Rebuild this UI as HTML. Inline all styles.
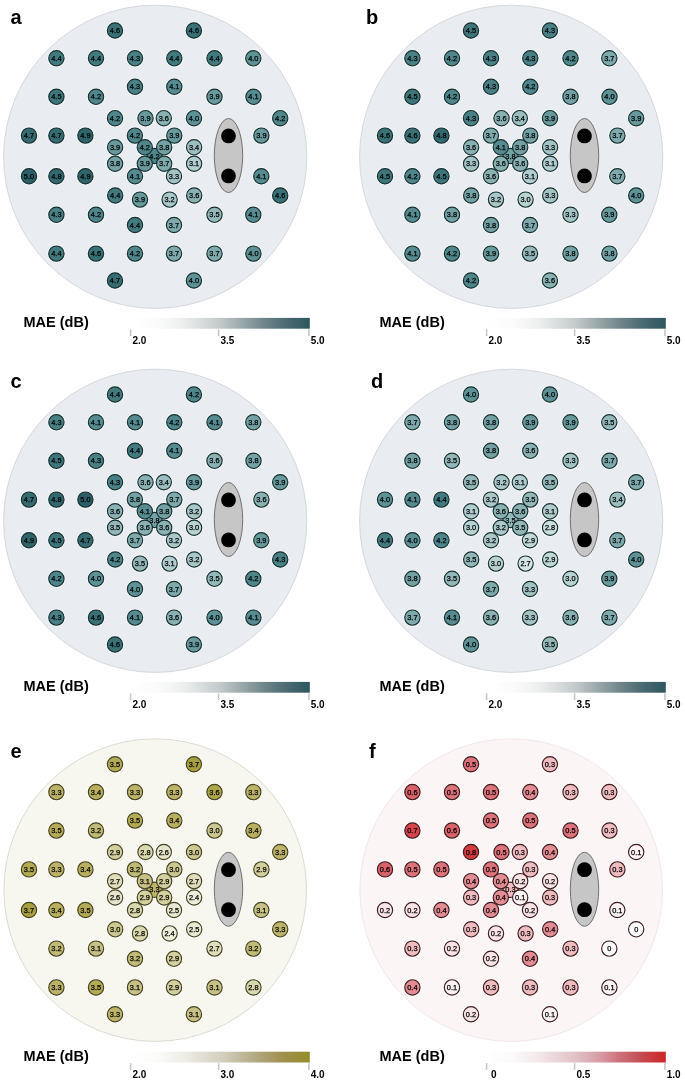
<!DOCTYPE html>
<html><head><meta charset="utf-8">
<style>
html,body{margin:0;padding:0;background:#fff;}
body{width:685px;height:1083px;overflow:hidden;}
svg{display:block;will-change:transform;filter:blur(0.25px);}
text{font-family:"Liberation Sans",sans-serif;}
.lab{font-size:20px;font-weight:bold;fill:#000;}
.v{font-size:7.4px;fill:#000;stroke:#000;stroke-width:0.25px;text-anchor:middle;}
.mae{font-size:14.5px;font-weight:bold;fill:#000;}
.tk{font-size:10px;font-weight:bold;fill:#000;}
</style></head>
<body>
<svg width="685" height="1083" viewBox="0 0 685 1083">
<rect width="685" height="1083" fill="#fff"/>
<g transform="translate(0,0)">
<text x="10.5" y="24" class="lab">a</text>
<circle cx="155.2" cy="156.8" r="151.6" fill="#e9ecf0" stroke="#d4d8df" stroke-width="1"/>
<ellipse cx="228.5" cy="155.5" rx="14.2" ry="37" fill="#c6c6c6" stroke="#555" stroke-width="0.8"/>
<circle cx="228.5" cy="135.9" r="7.4" fill="#000"/>
<circle cx="228.5" cy="175.9" r="7.4" fill="#000"/>
<g fill="none" stroke="#fff" stroke-opacity="0.55" stroke-width="1">
<circle cx="115.0" cy="30.5" r="8.75"/>
<circle cx="193.9" cy="30.5" r="8.75"/>
<circle cx="56.4" cy="58.3" r="8.75"/>
<circle cx="96.0" cy="58.3" r="8.75"/>
<circle cx="135.0" cy="58.3" r="8.75"/>
<circle cx="174.3" cy="58.3" r="8.75"/>
<circle cx="214.5" cy="58.3" r="8.75"/>
<circle cx="253.3" cy="58.3" r="8.75"/>
<circle cx="135.0" cy="86.8" r="8.75"/>
<circle cx="174.3" cy="86.8" r="8.75"/>
<circle cx="56.4" cy="96.8" r="8.75"/>
<circle cx="96.0" cy="96.8" r="8.75"/>
<circle cx="214.5" cy="96.8" r="8.75"/>
<circle cx="253.5" cy="96.8" r="8.75"/>
<circle cx="115.0" cy="118.2" r="8.75"/>
<circle cx="145.5" cy="118.2" r="8.75"/>
<circle cx="163.8" cy="118.2" r="8.75"/>
<circle cx="194.0" cy="118.2" r="8.75"/>
<circle cx="280.2" cy="118.2" r="8.75"/>
<circle cx="29.0" cy="135.6" r="8.75"/>
<circle cx="56.4" cy="135.6" r="8.75"/>
<circle cx="85.4" cy="135.6" r="8.75"/>
<circle cx="134.9" cy="135.6" r="8.75"/>
<circle cx="174.3" cy="135.6" r="8.75"/>
<circle cx="261.4" cy="135.6" r="8.75"/>
<circle cx="115.1" cy="147.3" r="8.75"/>
<circle cx="144.8" cy="147.3" r="8.75"/>
<circle cx="164.2" cy="147.3" r="8.75"/>
<circle cx="194.1" cy="147.3" r="8.75"/>
<circle cx="154.5" cy="156.0" r="8.75"/>
<circle cx="115.1" cy="163.7" r="8.75"/>
<circle cx="144.8" cy="163.7" r="8.75"/>
<circle cx="164.2" cy="163.7" r="8.75"/>
<circle cx="194.1" cy="163.7" r="8.75"/>
<circle cx="29.0" cy="176.2" r="8.75"/>
<circle cx="56.4" cy="176.2" r="8.75"/>
<circle cx="85.4" cy="176.2" r="8.75"/>
<circle cx="135.0" cy="176.2" r="8.75"/>
<circle cx="174.0" cy="176.2" r="8.75"/>
<circle cx="261.3" cy="176.2" r="8.75"/>
<circle cx="115.2" cy="195.5" r="8.75"/>
<circle cx="194.2" cy="195.5" r="8.75"/>
<circle cx="280.2" cy="195.5" r="8.75"/>
<circle cx="140.0" cy="199.6" r="8.75"/>
<circle cx="169.6" cy="199.6" r="8.75"/>
<circle cx="56.4" cy="214.8" r="8.75"/>
<circle cx="96.0" cy="214.8" r="8.75"/>
<circle cx="214.5" cy="214.8" r="8.75"/>
<circle cx="253.3" cy="214.8" r="8.75"/>
<circle cx="135.0" cy="225.0" r="8.75"/>
<circle cx="174.0" cy="225.0" r="8.75"/>
<circle cx="56.4" cy="253.6" r="8.75"/>
<circle cx="96.0" cy="253.6" r="8.75"/>
<circle cx="135.0" cy="253.6" r="8.75"/>
<circle cx="174.0" cy="253.6" r="8.75"/>
<circle cx="214.5" cy="253.6" r="8.75"/>
<circle cx="253.4" cy="253.6" r="8.75"/>
<circle cx="115.0" cy="280.5" r="8.75"/>
<circle cx="193.9" cy="280.5" r="8.75"/>
</g>
<g stroke="#16302f" stroke-width="1.15">
<circle cx="154.5" cy="156.0" r="7.65" fill="#4f868b"/>
<circle cx="115.0" cy="30.5" r="7.65" fill="#397176"/>
<circle cx="193.9" cy="30.5" r="7.65" fill="#397176"/>
<circle cx="56.4" cy="58.3" r="7.65" fill="#427a7f"/>
<circle cx="96.0" cy="58.3" r="7.65" fill="#427a7f"/>
<circle cx="135.0" cy="58.3" r="7.65" fill="#498085"/>
<circle cx="174.3" cy="58.3" r="7.65" fill="#427a7f"/>
<circle cx="214.5" cy="58.3" r="7.65" fill="#427a7f"/>
<circle cx="253.3" cy="58.3" r="7.65" fill="#5d9296"/>
<circle cx="135.0" cy="86.8" r="7.65" fill="#498085"/>
<circle cx="174.3" cy="86.8" r="7.65" fill="#568c91"/>
<circle cx="56.4" cy="96.8" r="7.65" fill="#3e757b"/>
<circle cx="96.0" cy="96.8" r="7.65" fill="#4f868b"/>
<circle cx="214.5" cy="96.8" r="7.65" fill="#67999d"/>
<circle cx="253.5" cy="96.8" r="7.65" fill="#568c91"/>
<circle cx="115.0" cy="118.2" r="7.65" fill="#4f868b"/>
<circle cx="145.5" cy="118.2" r="7.65" fill="#67999d"/>
<circle cx="163.8" cy="118.2" r="7.65" fill="#8ab1b4"/>
<circle cx="194.0" cy="118.2" r="7.65" fill="#5d9296"/>
<circle cx="280.2" cy="118.2" r="7.65" fill="#4f868b"/>
<circle cx="29.0" cy="135.6" r="7.65" fill="#356c72"/>
<circle cx="56.4" cy="135.6" r="7.65" fill="#356c72"/>
<circle cx="85.4" cy="135.6" r="7.65" fill="#2f646b"/>
<circle cx="134.9" cy="135.6" r="7.65" fill="#4f868b"/>
<circle cx="174.3" cy="135.6" r="7.65" fill="#67999d"/>
<circle cx="261.4" cy="135.6" r="7.65" fill="#67999d"/>
<circle cx="115.1" cy="147.3" r="7.65" fill="#67999d"/>
<circle cx="144.8" cy="147.3" r="7.65" fill="#4f868b"/>
<circle cx="164.2" cy="147.3" r="7.65" fill="#73a1a5"/>
<circle cx="194.1" cy="147.3" r="7.65" fill="#9dbec0"/>
<circle cx="115.1" cy="163.7" r="7.65" fill="#73a1a5"/>
<circle cx="144.8" cy="163.7" r="7.65" fill="#67999d"/>
<circle cx="164.2" cy="163.7" r="7.65" fill="#7ea9ad"/>
<circle cx="194.1" cy="163.7" r="7.65" fill="#b2cdcf"/>
<circle cx="29.0" cy="176.2" r="7.65" fill="#2c6068"/>
<circle cx="56.4" cy="176.2" r="7.65" fill="#32686f"/>
<circle cx="85.4" cy="176.2" r="7.65" fill="#2f646b"/>
<circle cx="135.0" cy="176.2" r="7.65" fill="#568c91"/>
<circle cx="174.0" cy="176.2" r="7.65" fill="#a3c3c5"/>
<circle cx="261.3" cy="176.2" r="7.65" fill="#568c91"/>
<circle cx="115.2" cy="195.5" r="7.65" fill="#427a7f"/>
<circle cx="194.2" cy="195.5" r="7.65" fill="#8ab1b4"/>
<circle cx="280.2" cy="195.5" r="7.65" fill="#397176"/>
<circle cx="140.0" cy="199.6" r="7.65" fill="#67999d"/>
<circle cx="169.6" cy="199.6" r="7.65" fill="#aac8ca"/>
<circle cx="56.4" cy="214.8" r="7.65" fill="#498085"/>
<circle cx="96.0" cy="214.8" r="7.65" fill="#4f868b"/>
<circle cx="214.5" cy="214.8" r="7.65" fill="#94b8ba"/>
<circle cx="253.3" cy="214.8" r="7.65" fill="#568c91"/>
<circle cx="135.0" cy="225.0" r="7.65" fill="#427a7f"/>
<circle cx="174.0" cy="225.0" r="7.65" fill="#7ea9ad"/>
<circle cx="56.4" cy="253.6" r="7.65" fill="#427a7f"/>
<circle cx="96.0" cy="253.6" r="7.65" fill="#397176"/>
<circle cx="135.0" cy="253.6" r="7.65" fill="#4f868b"/>
<circle cx="174.0" cy="253.6" r="7.65" fill="#7ea9ad"/>
<circle cx="214.5" cy="253.6" r="7.65" fill="#7ea9ad"/>
<circle cx="253.4" cy="253.6" r="7.65" fill="#5d9296"/>
<circle cx="115.0" cy="280.5" r="7.65" fill="#356c72"/>
<circle cx="193.9" cy="280.5" r="7.65" fill="#5d9296"/>
</g>
<g>
<text transform="translate(115.0,33.15)" class="v">4.6</text>
<text transform="translate(193.9,33.15)" class="v">4.6</text>
<text transform="translate(56.4,60.95)" class="v">4.4</text>
<text transform="translate(96.0,60.95)" class="v">4.4</text>
<text transform="translate(135.0,60.95)" class="v">4.3</text>
<text transform="translate(174.3,60.95)" class="v">4.4</text>
<text transform="translate(214.5,60.95)" class="v">4.4</text>
<text transform="translate(253.3,60.95)" class="v">4.0</text>
<text transform="translate(135.0,89.45)" class="v">4.3</text>
<text transform="translate(174.3,89.45)" class="v">4.1</text>
<text transform="translate(56.4,99.45)" class="v">4.5</text>
<text transform="translate(96.0,99.45)" class="v">4.2</text>
<text transform="translate(214.5,99.45)" class="v">3.9</text>
<text transform="translate(253.5,99.45)" class="v">4.1</text>
<text transform="translate(115.0,120.85)" class="v">4.2</text>
<text transform="translate(145.5,120.85)" class="v">3.9</text>
<text transform="translate(163.8,120.85)" class="v">3.6</text>
<text transform="translate(194.0,120.85)" class="v">4.0</text>
<text transform="translate(280.2,120.85)" class="v">4.2</text>
<text transform="translate(29.0,138.25)" class="v">4.7</text>
<text transform="translate(56.4,138.25)" class="v">4.7</text>
<text transform="translate(85.4,138.25)" class="v">4.9</text>
<text transform="translate(134.9,138.25)" class="v">4.2</text>
<text transform="translate(174.3,138.25)" class="v">3.9</text>
<text transform="translate(261.4,138.25)" class="v">3.9</text>
<text transform="translate(115.1,149.95)" class="v">3.9</text>
<text transform="translate(144.8,149.95)" class="v">4.2</text>
<text transform="translate(164.2,149.95)" class="v">3.8</text>
<text transform="translate(194.1,149.95)" class="v">3.4</text>
<text transform="translate(154.5,158.65)" class="v">4.2</text>
<text transform="translate(115.1,166.35)" class="v">3.8</text>
<text transform="translate(144.8,166.35)" class="v">3.9</text>
<text transform="translate(164.2,166.35)" class="v">3.7</text>
<text transform="translate(194.1,166.35)" class="v">3.1</text>
<text transform="translate(29.0,178.85)" class="v">5.0</text>
<text transform="translate(56.4,178.85)" class="v">4.8</text>
<text transform="translate(85.4,178.85)" class="v">4.9</text>
<text transform="translate(135.0,178.85)" class="v">4.1</text>
<text transform="translate(174.0,178.85)" class="v">3.3</text>
<text transform="translate(261.3,178.85)" class="v">4.1</text>
<text transform="translate(115.2,198.15)" class="v">4.4</text>
<text transform="translate(194.2,198.15)" class="v">3.6</text>
<text transform="translate(280.2,198.15)" class="v">4.6</text>
<text transform="translate(140.0,202.25)" class="v">3.9</text>
<text transform="translate(169.6,202.25)" class="v">3.2</text>
<text transform="translate(56.4,217.45)" class="v">4.3</text>
<text transform="translate(96.0,217.45)" class="v">4.2</text>
<text transform="translate(214.5,217.45)" class="v">3.5</text>
<text transform="translate(253.3,217.45)" class="v">4.1</text>
<text transform="translate(135.0,227.65)" class="v">4.4</text>
<text transform="translate(174.0,227.65)" class="v">3.7</text>
<text transform="translate(56.4,256.25)" class="v">4.4</text>
<text transform="translate(96.0,256.25)" class="v">4.6</text>
<text transform="translate(135.0,256.25)" class="v">4.2</text>
<text transform="translate(174.0,256.25)" class="v">3.7</text>
<text transform="translate(214.5,256.25)" class="v">3.7</text>
<text transform="translate(253.4,256.25)" class="v">4.0</text>
<text transform="translate(115.0,283.15)" class="v">4.7</text>
<text transform="translate(193.9,283.15)" class="v">4.0</text>
</g>
<text x="23.5" y="327.3" class="mae">MAE (dB)</text>
<defs><linearGradient id="ga" x1="0" x2="1" y1="0" y2="0"><stop offset="0.00" stop-color="#ffffff"/><stop offset="0.05" stop-color="#fefefe"/><stop offset="0.10" stop-color="#fcfcfc"/><stop offset="0.15" stop-color="#fbfbfb"/><stop offset="0.20" stop-color="#f6f7f7"/><stop offset="0.25" stop-color="#f1f2f2"/><stop offset="0.30" stop-color="#eceeee"/><stop offset="0.35" stop-color="#e2e5e5"/><stop offset="0.40" stop-color="#d8dcdc"/><stop offset="0.45" stop-color="#cdd2d3"/><stop offset="0.50" stop-color="#c3c9ca"/><stop offset="0.55" stop-color="#b2bbbd"/><stop offset="0.60" stop-color="#a1aeb0"/><stop offset="0.65" stop-color="#90a0a3"/><stop offset="0.70" stop-color="#7f9296"/><stop offset="0.75" stop-color="#6e8489"/><stop offset="0.80" stop-color="#5f797f"/><stop offset="0.85" stop-color="#506e76"/><stop offset="0.90" stop-color="#44656e"/><stop offset="0.95" stop-color="#395e67"/><stop offset="1.00" stop-color="#2e5660"/></linearGradient></defs>
<rect x="130.6" y="317.9" width="179.2" height="10.8" fill="url(#ga)"/>
<rect x="129.8" y="329.4" width="1.6" height="6.7" fill="#c6c6c6"/>
<text x="132.4" y="343.8" class="tk">2.0</text>
<rect x="217.8" y="329.4" width="1.6" height="6.7" fill="#c6c6c6"/>
<text x="220.4" y="343.8" class="tk">3.5</text>
<rect x="308.1" y="329.4" width="1.6" height="6.7" fill="#c6c6c6"/>
<text x="310.7" y="343.8" class="tk">5.0</text>
</g>
<g transform="translate(356,0)">
<text x="10.1" y="24" class="lab">b</text>
<circle cx="155.2" cy="156.8" r="151.6" fill="#e9ecf0" stroke="#d4d8df" stroke-width="1"/>
<ellipse cx="228.5" cy="155.5" rx="14.2" ry="37" fill="#c6c6c6" stroke="#555" stroke-width="0.8"/>
<circle cx="228.5" cy="135.9" r="7.4" fill="#000"/>
<circle cx="228.5" cy="175.9" r="7.4" fill="#000"/>
<g fill="none" stroke="#fff" stroke-opacity="0.55" stroke-width="1">
<circle cx="115.0" cy="30.5" r="8.75"/>
<circle cx="193.9" cy="30.5" r="8.75"/>
<circle cx="56.4" cy="58.3" r="8.75"/>
<circle cx="96.0" cy="58.3" r="8.75"/>
<circle cx="135.0" cy="58.3" r="8.75"/>
<circle cx="174.3" cy="58.3" r="8.75"/>
<circle cx="214.5" cy="58.3" r="8.75"/>
<circle cx="253.3" cy="58.3" r="8.75"/>
<circle cx="135.0" cy="86.8" r="8.75"/>
<circle cx="174.3" cy="86.8" r="8.75"/>
<circle cx="56.4" cy="96.8" r="8.75"/>
<circle cx="96.0" cy="96.8" r="8.75"/>
<circle cx="214.5" cy="96.8" r="8.75"/>
<circle cx="253.5" cy="96.8" r="8.75"/>
<circle cx="115.0" cy="118.2" r="8.75"/>
<circle cx="145.5" cy="118.2" r="8.75"/>
<circle cx="163.8" cy="118.2" r="8.75"/>
<circle cx="194.0" cy="118.2" r="8.75"/>
<circle cx="280.2" cy="118.2" r="8.75"/>
<circle cx="29.0" cy="135.6" r="8.75"/>
<circle cx="56.4" cy="135.6" r="8.75"/>
<circle cx="85.4" cy="135.6" r="8.75"/>
<circle cx="134.9" cy="135.6" r="8.75"/>
<circle cx="174.3" cy="135.6" r="8.75"/>
<circle cx="261.4" cy="135.6" r="8.75"/>
<circle cx="115.1" cy="147.3" r="8.75"/>
<circle cx="144.8" cy="147.3" r="8.75"/>
<circle cx="164.2" cy="147.3" r="8.75"/>
<circle cx="194.1" cy="147.3" r="8.75"/>
<circle cx="154.5" cy="156.0" r="8.75"/>
<circle cx="115.1" cy="163.7" r="8.75"/>
<circle cx="144.8" cy="163.7" r="8.75"/>
<circle cx="164.2" cy="163.7" r="8.75"/>
<circle cx="194.1" cy="163.7" r="8.75"/>
<circle cx="29.0" cy="176.2" r="8.75"/>
<circle cx="56.4" cy="176.2" r="8.75"/>
<circle cx="85.4" cy="176.2" r="8.75"/>
<circle cx="135.0" cy="176.2" r="8.75"/>
<circle cx="174.0" cy="176.2" r="8.75"/>
<circle cx="261.3" cy="176.2" r="8.75"/>
<circle cx="115.2" cy="195.5" r="8.75"/>
<circle cx="194.2" cy="195.5" r="8.75"/>
<circle cx="280.2" cy="195.5" r="8.75"/>
<circle cx="140.0" cy="199.6" r="8.75"/>
<circle cx="169.6" cy="199.6" r="8.75"/>
<circle cx="56.4" cy="214.8" r="8.75"/>
<circle cx="96.0" cy="214.8" r="8.75"/>
<circle cx="214.5" cy="214.8" r="8.75"/>
<circle cx="253.3" cy="214.8" r="8.75"/>
<circle cx="135.0" cy="225.0" r="8.75"/>
<circle cx="174.0" cy="225.0" r="8.75"/>
<circle cx="56.4" cy="253.6" r="8.75"/>
<circle cx="96.0" cy="253.6" r="8.75"/>
<circle cx="135.0" cy="253.6" r="8.75"/>
<circle cx="174.0" cy="253.6" r="8.75"/>
<circle cx="214.5" cy="253.6" r="8.75"/>
<circle cx="253.4" cy="253.6" r="8.75"/>
<circle cx="115.0" cy="280.5" r="8.75"/>
<circle cx="193.9" cy="280.5" r="8.75"/>
</g>
<g stroke="#16302f" stroke-width="1.15">
<circle cx="154.5" cy="156.0" r="7.65" fill="#73a1a5"/>
<circle cx="115.0" cy="30.5" r="7.65" fill="#3e757b"/>
<circle cx="193.9" cy="30.5" r="7.65" fill="#498085"/>
<circle cx="56.4" cy="58.3" r="7.65" fill="#498085"/>
<circle cx="96.0" cy="58.3" r="7.65" fill="#4f868b"/>
<circle cx="135.0" cy="58.3" r="7.65" fill="#498085"/>
<circle cx="174.3" cy="58.3" r="7.65" fill="#498085"/>
<circle cx="214.5" cy="58.3" r="7.65" fill="#4f868b"/>
<circle cx="253.3" cy="58.3" r="7.65" fill="#7ea9ad"/>
<circle cx="135.0" cy="86.8" r="7.65" fill="#498085"/>
<circle cx="174.3" cy="86.8" r="7.65" fill="#4f868b"/>
<circle cx="56.4" cy="96.8" r="7.65" fill="#3e757b"/>
<circle cx="96.0" cy="96.8" r="7.65" fill="#4f868b"/>
<circle cx="214.5" cy="96.8" r="7.65" fill="#73a1a5"/>
<circle cx="253.5" cy="96.8" r="7.65" fill="#5d9296"/>
<circle cx="115.0" cy="118.2" r="7.65" fill="#498085"/>
<circle cx="145.5" cy="118.2" r="7.65" fill="#8ab1b4"/>
<circle cx="163.8" cy="118.2" r="7.65" fill="#9dbec0"/>
<circle cx="194.0" cy="118.2" r="7.65" fill="#67999d"/>
<circle cx="280.2" cy="118.2" r="7.65" fill="#67999d"/>
<circle cx="29.0" cy="135.6" r="7.65" fill="#397176"/>
<circle cx="56.4" cy="135.6" r="7.65" fill="#397176"/>
<circle cx="85.4" cy="135.6" r="7.65" fill="#32686f"/>
<circle cx="134.9" cy="135.6" r="7.65" fill="#7ea9ad"/>
<circle cx="174.3" cy="135.6" r="7.65" fill="#73a1a5"/>
<circle cx="261.4" cy="135.6" r="7.65" fill="#7ea9ad"/>
<circle cx="115.1" cy="147.3" r="7.65" fill="#8ab1b4"/>
<circle cx="144.8" cy="147.3" r="7.65" fill="#568c91"/>
<circle cx="164.2" cy="147.3" r="7.65" fill="#73a1a5"/>
<circle cx="194.1" cy="147.3" r="7.65" fill="#a3c3c5"/>
<circle cx="115.1" cy="163.7" r="7.65" fill="#a3c3c5"/>
<circle cx="144.8" cy="163.7" r="7.65" fill="#8ab1b4"/>
<circle cx="164.2" cy="163.7" r="7.65" fill="#8ab1b4"/>
<circle cx="194.1" cy="163.7" r="7.65" fill="#b2cdcf"/>
<circle cx="29.0" cy="176.2" r="7.65" fill="#3e757b"/>
<circle cx="56.4" cy="176.2" r="7.65" fill="#4f868b"/>
<circle cx="85.4" cy="176.2" r="7.65" fill="#3e757b"/>
<circle cx="135.0" cy="176.2" r="7.65" fill="#8ab1b4"/>
<circle cx="174.0" cy="176.2" r="7.65" fill="#b2cdcf"/>
<circle cx="261.3" cy="176.2" r="7.65" fill="#7ea9ad"/>
<circle cx="115.2" cy="195.5" r="7.65" fill="#73a1a5"/>
<circle cx="194.2" cy="195.5" r="7.65" fill="#a3c3c5"/>
<circle cx="280.2" cy="195.5" r="7.65" fill="#5d9296"/>
<circle cx="140.0" cy="199.6" r="7.65" fill="#aac8ca"/>
<circle cx="169.6" cy="199.6" r="7.65" fill="#b9d2d4"/>
<circle cx="56.4" cy="214.8" r="7.65" fill="#568c91"/>
<circle cx="96.0" cy="214.8" r="7.65" fill="#73a1a5"/>
<circle cx="214.5" cy="214.8" r="7.65" fill="#a3c3c5"/>
<circle cx="253.3" cy="214.8" r="7.65" fill="#67999d"/>
<circle cx="135.0" cy="225.0" r="7.65" fill="#73a1a5"/>
<circle cx="174.0" cy="225.0" r="7.65" fill="#7ea9ad"/>
<circle cx="56.4" cy="253.6" r="7.65" fill="#568c91"/>
<circle cx="96.0" cy="253.6" r="7.65" fill="#4f868b"/>
<circle cx="135.0" cy="253.6" r="7.65" fill="#67999d"/>
<circle cx="174.0" cy="253.6" r="7.65" fill="#94b8ba"/>
<circle cx="214.5" cy="253.6" r="7.65" fill="#73a1a5"/>
<circle cx="253.4" cy="253.6" r="7.65" fill="#73a1a5"/>
<circle cx="115.0" cy="280.5" r="7.65" fill="#4f868b"/>
<circle cx="193.9" cy="280.5" r="7.65" fill="#8ab1b4"/>
</g>
<g>
<text transform="translate(115.0,33.15)" class="v">4.5</text>
<text transform="translate(193.9,33.15)" class="v">4.3</text>
<text transform="translate(56.4,60.95)" class="v">4.3</text>
<text transform="translate(96.0,60.95)" class="v">4.2</text>
<text transform="translate(135.0,60.95)" class="v">4.3</text>
<text transform="translate(174.3,60.95)" class="v">4.3</text>
<text transform="translate(214.5,60.95)" class="v">4.2</text>
<text transform="translate(253.3,60.95)" class="v">3.7</text>
<text transform="translate(135.0,89.45)" class="v">4.3</text>
<text transform="translate(174.3,89.45)" class="v">4.2</text>
<text transform="translate(56.4,99.45)" class="v">4.5</text>
<text transform="translate(96.0,99.45)" class="v">4.2</text>
<text transform="translate(214.5,99.45)" class="v">3.8</text>
<text transform="translate(253.5,99.45)" class="v">4.0</text>
<text transform="translate(115.0,120.85)" class="v">4.3</text>
<text transform="translate(145.5,120.85)" class="v">3.6</text>
<text transform="translate(163.8,120.85)" class="v">3.4</text>
<text transform="translate(194.0,120.85)" class="v">3.9</text>
<text transform="translate(280.2,120.85)" class="v">3.9</text>
<text transform="translate(29.0,138.25)" class="v">4.6</text>
<text transform="translate(56.4,138.25)" class="v">4.6</text>
<text transform="translate(85.4,138.25)" class="v">4.8</text>
<text transform="translate(134.9,138.25)" class="v">3.7</text>
<text transform="translate(174.3,138.25)" class="v">3.8</text>
<text transform="translate(261.4,138.25)" class="v">3.7</text>
<text transform="translate(115.1,149.95)" class="v">3.6</text>
<text transform="translate(144.8,149.95)" class="v">4.1</text>
<text transform="translate(164.2,149.95)" class="v">3.8</text>
<text transform="translate(194.1,149.95)" class="v">3.3</text>
<text transform="translate(154.5,158.65)" class="v">3.8</text>
<text transform="translate(115.1,166.35)" class="v">3.3</text>
<text transform="translate(144.8,166.35)" class="v">3.6</text>
<text transform="translate(164.2,166.35)" class="v">3.6</text>
<text transform="translate(194.1,166.35)" class="v">3.1</text>
<text transform="translate(29.0,178.85)" class="v">4.5</text>
<text transform="translate(56.4,178.85)" class="v">4.2</text>
<text transform="translate(85.4,178.85)" class="v">4.5</text>
<text transform="translate(135.0,178.85)" class="v">3.6</text>
<text transform="translate(174.0,178.85)" class="v">3.1</text>
<text transform="translate(261.3,178.85)" class="v">3.7</text>
<text transform="translate(115.2,198.15)" class="v">3.8</text>
<text transform="translate(194.2,198.15)" class="v">3.3</text>
<text transform="translate(280.2,198.15)" class="v">4.0</text>
<text transform="translate(140.0,202.25)" class="v">3.2</text>
<text transform="translate(169.6,202.25)" class="v">3.0</text>
<text transform="translate(56.4,217.45)" class="v">4.1</text>
<text transform="translate(96.0,217.45)" class="v">3.8</text>
<text transform="translate(214.5,217.45)" class="v">3.3</text>
<text transform="translate(253.3,217.45)" class="v">3.9</text>
<text transform="translate(135.0,227.65)" class="v">3.8</text>
<text transform="translate(174.0,227.65)" class="v">3.7</text>
<text transform="translate(56.4,256.25)" class="v">4.1</text>
<text transform="translate(96.0,256.25)" class="v">4.2</text>
<text transform="translate(135.0,256.25)" class="v">3.9</text>
<text transform="translate(174.0,256.25)" class="v">3.5</text>
<text transform="translate(214.5,256.25)" class="v">3.8</text>
<text transform="translate(253.4,256.25)" class="v">3.8</text>
<text transform="translate(115.0,283.15)" class="v">4.2</text>
<text transform="translate(193.9,283.15)" class="v">3.6</text>
</g>
<text x="23.5" y="327.3" class="mae">MAE (dB)</text>
<defs><linearGradient id="gb" x1="0" x2="1" y1="0" y2="0"><stop offset="0.00" stop-color="#ffffff"/><stop offset="0.05" stop-color="#fefefe"/><stop offset="0.10" stop-color="#fcfcfc"/><stop offset="0.15" stop-color="#fbfbfb"/><stop offset="0.20" stop-color="#f6f7f7"/><stop offset="0.25" stop-color="#f1f2f2"/><stop offset="0.30" stop-color="#eceeee"/><stop offset="0.35" stop-color="#e2e5e5"/><stop offset="0.40" stop-color="#d8dcdc"/><stop offset="0.45" stop-color="#cdd2d3"/><stop offset="0.50" stop-color="#c3c9ca"/><stop offset="0.55" stop-color="#b2bbbd"/><stop offset="0.60" stop-color="#a1aeb0"/><stop offset="0.65" stop-color="#90a0a3"/><stop offset="0.70" stop-color="#7f9296"/><stop offset="0.75" stop-color="#6e8489"/><stop offset="0.80" stop-color="#5f797f"/><stop offset="0.85" stop-color="#506e76"/><stop offset="0.90" stop-color="#44656e"/><stop offset="0.95" stop-color="#395e67"/><stop offset="1.00" stop-color="#2e5660"/></linearGradient></defs>
<rect x="130.6" y="317.9" width="179.2" height="10.8" fill="url(#gb)"/>
<rect x="129.8" y="329.4" width="1.6" height="6.7" fill="#c6c6c6"/>
<text x="132.4" y="343.8" class="tk">2.0</text>
<rect x="217.8" y="329.4" width="1.6" height="6.7" fill="#c6c6c6"/>
<text x="220.4" y="343.8" class="tk">3.5</text>
<rect x="308.1" y="329.4" width="1.6" height="6.7" fill="#c6c6c6"/>
<text x="310.7" y="343.8" class="tk">5.0</text>
</g>
<g transform="translate(0,364)">
<text x="10.5" y="24" class="lab">c</text>
<circle cx="155.2" cy="156.8" r="151.6" fill="#e9ecf0" stroke="#d4d8df" stroke-width="1"/>
<ellipse cx="228.5" cy="155.5" rx="14.2" ry="37" fill="#c6c6c6" stroke="#555" stroke-width="0.8"/>
<circle cx="228.5" cy="135.9" r="7.4" fill="#000"/>
<circle cx="228.5" cy="175.9" r="7.4" fill="#000"/>
<g fill="none" stroke="#fff" stroke-opacity="0.55" stroke-width="1">
<circle cx="115.0" cy="30.5" r="8.75"/>
<circle cx="193.9" cy="30.5" r="8.75"/>
<circle cx="56.4" cy="58.3" r="8.75"/>
<circle cx="96.0" cy="58.3" r="8.75"/>
<circle cx="135.0" cy="58.3" r="8.75"/>
<circle cx="174.3" cy="58.3" r="8.75"/>
<circle cx="214.5" cy="58.3" r="8.75"/>
<circle cx="253.3" cy="58.3" r="8.75"/>
<circle cx="135.0" cy="86.8" r="8.75"/>
<circle cx="174.3" cy="86.8" r="8.75"/>
<circle cx="56.4" cy="96.8" r="8.75"/>
<circle cx="96.0" cy="96.8" r="8.75"/>
<circle cx="214.5" cy="96.8" r="8.75"/>
<circle cx="253.5" cy="96.8" r="8.75"/>
<circle cx="115.0" cy="118.2" r="8.75"/>
<circle cx="145.5" cy="118.2" r="8.75"/>
<circle cx="163.8" cy="118.2" r="8.75"/>
<circle cx="194.0" cy="118.2" r="8.75"/>
<circle cx="280.2" cy="118.2" r="8.75"/>
<circle cx="29.0" cy="135.6" r="8.75"/>
<circle cx="56.4" cy="135.6" r="8.75"/>
<circle cx="85.4" cy="135.6" r="8.75"/>
<circle cx="134.9" cy="135.6" r="8.75"/>
<circle cx="174.3" cy="135.6" r="8.75"/>
<circle cx="261.4" cy="135.6" r="8.75"/>
<circle cx="115.1" cy="147.3" r="8.75"/>
<circle cx="144.8" cy="147.3" r="8.75"/>
<circle cx="164.2" cy="147.3" r="8.75"/>
<circle cx="194.1" cy="147.3" r="8.75"/>
<circle cx="154.5" cy="156.0" r="8.75"/>
<circle cx="115.1" cy="163.7" r="8.75"/>
<circle cx="144.8" cy="163.7" r="8.75"/>
<circle cx="164.2" cy="163.7" r="8.75"/>
<circle cx="194.1" cy="163.7" r="8.75"/>
<circle cx="29.0" cy="176.2" r="8.75"/>
<circle cx="56.4" cy="176.2" r="8.75"/>
<circle cx="85.4" cy="176.2" r="8.75"/>
<circle cx="135.0" cy="176.2" r="8.75"/>
<circle cx="174.0" cy="176.2" r="8.75"/>
<circle cx="261.3" cy="176.2" r="8.75"/>
<circle cx="115.2" cy="195.5" r="8.75"/>
<circle cx="194.2" cy="195.5" r="8.75"/>
<circle cx="280.2" cy="195.5" r="8.75"/>
<circle cx="140.0" cy="199.6" r="8.75"/>
<circle cx="169.6" cy="199.6" r="8.75"/>
<circle cx="56.4" cy="214.8" r="8.75"/>
<circle cx="96.0" cy="214.8" r="8.75"/>
<circle cx="214.5" cy="214.8" r="8.75"/>
<circle cx="253.3" cy="214.8" r="8.75"/>
<circle cx="135.0" cy="225.0" r="8.75"/>
<circle cx="174.0" cy="225.0" r="8.75"/>
<circle cx="56.4" cy="253.6" r="8.75"/>
<circle cx="96.0" cy="253.6" r="8.75"/>
<circle cx="135.0" cy="253.6" r="8.75"/>
<circle cx="174.0" cy="253.6" r="8.75"/>
<circle cx="214.5" cy="253.6" r="8.75"/>
<circle cx="253.4" cy="253.6" r="8.75"/>
<circle cx="115.0" cy="280.5" r="8.75"/>
<circle cx="193.9" cy="280.5" r="8.75"/>
</g>
<g stroke="#16302f" stroke-width="1.15">
<circle cx="154.5" cy="156.0" r="7.65" fill="#73a1a5"/>
<circle cx="115.0" cy="30.5" r="7.65" fill="#427a7f"/>
<circle cx="193.9" cy="30.5" r="7.65" fill="#4f868b"/>
<circle cx="56.4" cy="58.3" r="7.65" fill="#498085"/>
<circle cx="96.0" cy="58.3" r="7.65" fill="#568c91"/>
<circle cx="135.0" cy="58.3" r="7.65" fill="#568c91"/>
<circle cx="174.3" cy="58.3" r="7.65" fill="#4f868b"/>
<circle cx="214.5" cy="58.3" r="7.65" fill="#568c91"/>
<circle cx="253.3" cy="58.3" r="7.65" fill="#73a1a5"/>
<circle cx="135.0" cy="86.8" r="7.65" fill="#427a7f"/>
<circle cx="174.3" cy="86.8" r="7.65" fill="#568c91"/>
<circle cx="56.4" cy="96.8" r="7.65" fill="#3e757b"/>
<circle cx="96.0" cy="96.8" r="7.65" fill="#498085"/>
<circle cx="214.5" cy="96.8" r="7.65" fill="#8ab1b4"/>
<circle cx="253.5" cy="96.8" r="7.65" fill="#73a1a5"/>
<circle cx="115.0" cy="118.2" r="7.65" fill="#498085"/>
<circle cx="145.5" cy="118.2" r="7.65" fill="#8ab1b4"/>
<circle cx="163.8" cy="118.2" r="7.65" fill="#9dbec0"/>
<circle cx="194.0" cy="118.2" r="7.65" fill="#67999d"/>
<circle cx="280.2" cy="118.2" r="7.65" fill="#67999d"/>
<circle cx="29.0" cy="135.6" r="7.65" fill="#356c72"/>
<circle cx="56.4" cy="135.6" r="7.65" fill="#32686f"/>
<circle cx="85.4" cy="135.6" r="7.65" fill="#2c6068"/>
<circle cx="134.9" cy="135.6" r="7.65" fill="#73a1a5"/>
<circle cx="174.3" cy="135.6" r="7.65" fill="#7ea9ad"/>
<circle cx="261.4" cy="135.6" r="7.65" fill="#8ab1b4"/>
<circle cx="115.1" cy="147.3" r="7.65" fill="#8ab1b4"/>
<circle cx="144.8" cy="147.3" r="7.65" fill="#568c91"/>
<circle cx="164.2" cy="147.3" r="7.65" fill="#73a1a5"/>
<circle cx="194.1" cy="147.3" r="7.65" fill="#aac8ca"/>
<circle cx="115.1" cy="163.7" r="7.65" fill="#94b8ba"/>
<circle cx="144.8" cy="163.7" r="7.65" fill="#8ab1b4"/>
<circle cx="164.2" cy="163.7" r="7.65" fill="#8ab1b4"/>
<circle cx="194.1" cy="163.7" r="7.65" fill="#b9d2d4"/>
<circle cx="29.0" cy="176.2" r="7.65" fill="#2f646b"/>
<circle cx="56.4" cy="176.2" r="7.65" fill="#3e757b"/>
<circle cx="85.4" cy="176.2" r="7.65" fill="#356c72"/>
<circle cx="135.0" cy="176.2" r="7.65" fill="#7ea9ad"/>
<circle cx="174.0" cy="176.2" r="7.65" fill="#aac8ca"/>
<circle cx="261.3" cy="176.2" r="7.65" fill="#67999d"/>
<circle cx="115.2" cy="195.5" r="7.65" fill="#4f868b"/>
<circle cx="194.2" cy="195.5" r="7.65" fill="#aac8ca"/>
<circle cx="280.2" cy="195.5" r="7.65" fill="#498085"/>
<circle cx="140.0" cy="199.6" r="7.65" fill="#94b8ba"/>
<circle cx="169.6" cy="199.6" r="7.65" fill="#b2cdcf"/>
<circle cx="56.4" cy="214.8" r="7.65" fill="#4f868b"/>
<circle cx="96.0" cy="214.8" r="7.65" fill="#5d9296"/>
<circle cx="214.5" cy="214.8" r="7.65" fill="#94b8ba"/>
<circle cx="253.3" cy="214.8" r="7.65" fill="#4f868b"/>
<circle cx="135.0" cy="225.0" r="7.65" fill="#5d9296"/>
<circle cx="174.0" cy="225.0" r="7.65" fill="#7ea9ad"/>
<circle cx="56.4" cy="253.6" r="7.65" fill="#498085"/>
<circle cx="96.0" cy="253.6" r="7.65" fill="#397176"/>
<circle cx="135.0" cy="253.6" r="7.65" fill="#568c91"/>
<circle cx="174.0" cy="253.6" r="7.65" fill="#8ab1b4"/>
<circle cx="214.5" cy="253.6" r="7.65" fill="#5d9296"/>
<circle cx="253.4" cy="253.6" r="7.65" fill="#568c91"/>
<circle cx="115.0" cy="280.5" r="7.65" fill="#397176"/>
<circle cx="193.9" cy="280.5" r="7.65" fill="#67999d"/>
</g>
<g>
<text transform="translate(115.0,33.15)" class="v">4.4</text>
<text transform="translate(193.9,33.15)" class="v">4.2</text>
<text transform="translate(56.4,60.95)" class="v">4.3</text>
<text transform="translate(96.0,60.95)" class="v">4.1</text>
<text transform="translate(135.0,60.95)" class="v">4.1</text>
<text transform="translate(174.3,60.95)" class="v">4.2</text>
<text transform="translate(214.5,60.95)" class="v">4.1</text>
<text transform="translate(253.3,60.95)" class="v">3.8</text>
<text transform="translate(135.0,89.45)" class="v">4.4</text>
<text transform="translate(174.3,89.45)" class="v">4.1</text>
<text transform="translate(56.4,99.45)" class="v">4.5</text>
<text transform="translate(96.0,99.45)" class="v">4.3</text>
<text transform="translate(214.5,99.45)" class="v">3.6</text>
<text transform="translate(253.5,99.45)" class="v">3.8</text>
<text transform="translate(115.0,120.85)" class="v">4.3</text>
<text transform="translate(145.5,120.85)" class="v">3.6</text>
<text transform="translate(163.8,120.85)" class="v">3.4</text>
<text transform="translate(194.0,120.85)" class="v">3.9</text>
<text transform="translate(280.2,120.85)" class="v">3.9</text>
<text transform="translate(29.0,138.25)" class="v">4.7</text>
<text transform="translate(56.4,138.25)" class="v">4.8</text>
<text transform="translate(85.4,138.25)" class="v">5.0</text>
<text transform="translate(134.9,138.25)" class="v">3.8</text>
<text transform="translate(174.3,138.25)" class="v">3.7</text>
<text transform="translate(261.4,138.25)" class="v">3.6</text>
<text transform="translate(115.1,149.95)" class="v">3.6</text>
<text transform="translate(144.8,149.95)" class="v">4.1</text>
<text transform="translate(164.2,149.95)" class="v">3.8</text>
<text transform="translate(194.1,149.95)" class="v">3.2</text>
<text transform="translate(154.5,158.65)" class="v">3.8</text>
<text transform="translate(115.1,166.35)" class="v">3.5</text>
<text transform="translate(144.8,166.35)" class="v">3.6</text>
<text transform="translate(164.2,166.35)" class="v">3.6</text>
<text transform="translate(194.1,166.35)" class="v">3.0</text>
<text transform="translate(29.0,178.85)" class="v">4.9</text>
<text transform="translate(56.4,178.85)" class="v">4.5</text>
<text transform="translate(85.4,178.85)" class="v">4.7</text>
<text transform="translate(135.0,178.85)" class="v">3.7</text>
<text transform="translate(174.0,178.85)" class="v">3.2</text>
<text transform="translate(261.3,178.85)" class="v">3.9</text>
<text transform="translate(115.2,198.15)" class="v">4.2</text>
<text transform="translate(194.2,198.15)" class="v">3.2</text>
<text transform="translate(280.2,198.15)" class="v">4.3</text>
<text transform="translate(140.0,202.25)" class="v">3.5</text>
<text transform="translate(169.6,202.25)" class="v">3.1</text>
<text transform="translate(56.4,217.45)" class="v">4.2</text>
<text transform="translate(96.0,217.45)" class="v">4.0</text>
<text transform="translate(214.5,217.45)" class="v">3.5</text>
<text transform="translate(253.3,217.45)" class="v">4.2</text>
<text transform="translate(135.0,227.65)" class="v">4.0</text>
<text transform="translate(174.0,227.65)" class="v">3.7</text>
<text transform="translate(56.4,256.25)" class="v">4.3</text>
<text transform="translate(96.0,256.25)" class="v">4.6</text>
<text transform="translate(135.0,256.25)" class="v">4.1</text>
<text transform="translate(174.0,256.25)" class="v">3.6</text>
<text transform="translate(214.5,256.25)" class="v">4.0</text>
<text transform="translate(253.4,256.25)" class="v">4.1</text>
<text transform="translate(115.0,283.15)" class="v">4.6</text>
<text transform="translate(193.9,283.15)" class="v">3.9</text>
</g>
<text x="23.5" y="327.3" class="mae">MAE (dB)</text>
<defs><linearGradient id="gc" x1="0" x2="1" y1="0" y2="0"><stop offset="0.00" stop-color="#ffffff"/><stop offset="0.05" stop-color="#fefefe"/><stop offset="0.10" stop-color="#fcfcfc"/><stop offset="0.15" stop-color="#fbfbfb"/><stop offset="0.20" stop-color="#f6f7f7"/><stop offset="0.25" stop-color="#f1f2f2"/><stop offset="0.30" stop-color="#eceeee"/><stop offset="0.35" stop-color="#e2e5e5"/><stop offset="0.40" stop-color="#d8dcdc"/><stop offset="0.45" stop-color="#cdd2d3"/><stop offset="0.50" stop-color="#c3c9ca"/><stop offset="0.55" stop-color="#b2bbbd"/><stop offset="0.60" stop-color="#a1aeb0"/><stop offset="0.65" stop-color="#90a0a3"/><stop offset="0.70" stop-color="#7f9296"/><stop offset="0.75" stop-color="#6e8489"/><stop offset="0.80" stop-color="#5f797f"/><stop offset="0.85" stop-color="#506e76"/><stop offset="0.90" stop-color="#44656e"/><stop offset="0.95" stop-color="#395e67"/><stop offset="1.00" stop-color="#2e5660"/></linearGradient></defs>
<rect x="130.6" y="317.9" width="179.2" height="10.8" fill="url(#gc)"/>
<rect x="129.8" y="329.4" width="1.6" height="6.7" fill="#c6c6c6"/>
<text x="132.4" y="343.8" class="tk">2.0</text>
<rect x="217.8" y="329.4" width="1.6" height="6.7" fill="#c6c6c6"/>
<text x="220.4" y="343.8" class="tk">3.5</text>
<rect x="308.1" y="329.4" width="1.6" height="6.7" fill="#c6c6c6"/>
<text x="310.7" y="343.8" class="tk">5.0</text>
</g>
<g transform="translate(356,364)">
<text x="15.0" y="24" class="lab">d</text>
<circle cx="155.2" cy="156.8" r="151.6" fill="#e9ecf0" stroke="#d4d8df" stroke-width="1"/>
<ellipse cx="228.5" cy="155.5" rx="14.2" ry="37" fill="#c6c6c6" stroke="#555" stroke-width="0.8"/>
<circle cx="228.5" cy="135.9" r="7.4" fill="#000"/>
<circle cx="228.5" cy="175.9" r="7.4" fill="#000"/>
<g fill="none" stroke="#fff" stroke-opacity="0.55" stroke-width="1">
<circle cx="115.0" cy="30.5" r="8.75"/>
<circle cx="193.9" cy="30.5" r="8.75"/>
<circle cx="56.4" cy="58.3" r="8.75"/>
<circle cx="96.0" cy="58.3" r="8.75"/>
<circle cx="135.0" cy="58.3" r="8.75"/>
<circle cx="174.3" cy="58.3" r="8.75"/>
<circle cx="214.5" cy="58.3" r="8.75"/>
<circle cx="253.3" cy="58.3" r="8.75"/>
<circle cx="135.0" cy="86.8" r="8.75"/>
<circle cx="174.3" cy="86.8" r="8.75"/>
<circle cx="56.4" cy="96.8" r="8.75"/>
<circle cx="96.0" cy="96.8" r="8.75"/>
<circle cx="214.5" cy="96.8" r="8.75"/>
<circle cx="253.5" cy="96.8" r="8.75"/>
<circle cx="115.0" cy="118.2" r="8.75"/>
<circle cx="145.5" cy="118.2" r="8.75"/>
<circle cx="163.8" cy="118.2" r="8.75"/>
<circle cx="194.0" cy="118.2" r="8.75"/>
<circle cx="280.2" cy="118.2" r="8.75"/>
<circle cx="29.0" cy="135.6" r="8.75"/>
<circle cx="56.4" cy="135.6" r="8.75"/>
<circle cx="85.4" cy="135.6" r="8.75"/>
<circle cx="134.9" cy="135.6" r="8.75"/>
<circle cx="174.3" cy="135.6" r="8.75"/>
<circle cx="261.4" cy="135.6" r="8.75"/>
<circle cx="115.1" cy="147.3" r="8.75"/>
<circle cx="144.8" cy="147.3" r="8.75"/>
<circle cx="164.2" cy="147.3" r="8.75"/>
<circle cx="194.1" cy="147.3" r="8.75"/>
<circle cx="154.5" cy="156.0" r="8.75"/>
<circle cx="115.1" cy="163.7" r="8.75"/>
<circle cx="144.8" cy="163.7" r="8.75"/>
<circle cx="164.2" cy="163.7" r="8.75"/>
<circle cx="194.1" cy="163.7" r="8.75"/>
<circle cx="29.0" cy="176.2" r="8.75"/>
<circle cx="56.4" cy="176.2" r="8.75"/>
<circle cx="85.4" cy="176.2" r="8.75"/>
<circle cx="135.0" cy="176.2" r="8.75"/>
<circle cx="174.0" cy="176.2" r="8.75"/>
<circle cx="261.3" cy="176.2" r="8.75"/>
<circle cx="115.2" cy="195.5" r="8.75"/>
<circle cx="194.2" cy="195.5" r="8.75"/>
<circle cx="280.2" cy="195.5" r="8.75"/>
<circle cx="140.0" cy="199.6" r="8.75"/>
<circle cx="169.6" cy="199.6" r="8.75"/>
<circle cx="56.4" cy="214.8" r="8.75"/>
<circle cx="96.0" cy="214.8" r="8.75"/>
<circle cx="214.5" cy="214.8" r="8.75"/>
<circle cx="253.3" cy="214.8" r="8.75"/>
<circle cx="135.0" cy="225.0" r="8.75"/>
<circle cx="174.0" cy="225.0" r="8.75"/>
<circle cx="56.4" cy="253.6" r="8.75"/>
<circle cx="96.0" cy="253.6" r="8.75"/>
<circle cx="135.0" cy="253.6" r="8.75"/>
<circle cx="174.0" cy="253.6" r="8.75"/>
<circle cx="214.5" cy="253.6" r="8.75"/>
<circle cx="253.4" cy="253.6" r="8.75"/>
<circle cx="115.0" cy="280.5" r="8.75"/>
<circle cx="193.9" cy="280.5" r="8.75"/>
</g>
<g stroke="#16302f" stroke-width="1.15">
<circle cx="154.5" cy="156.0" r="7.65" fill="#94b8ba"/>
<circle cx="115.0" cy="30.5" r="7.65" fill="#5d9296"/>
<circle cx="193.9" cy="30.5" r="7.65" fill="#5d9296"/>
<circle cx="56.4" cy="58.3" r="7.65" fill="#7ea9ad"/>
<circle cx="96.0" cy="58.3" r="7.65" fill="#73a1a5"/>
<circle cx="135.0" cy="58.3" r="7.65" fill="#73a1a5"/>
<circle cx="174.3" cy="58.3" r="7.65" fill="#67999d"/>
<circle cx="214.5" cy="58.3" r="7.65" fill="#67999d"/>
<circle cx="253.3" cy="58.3" r="7.65" fill="#94b8ba"/>
<circle cx="135.0" cy="86.8" r="7.65" fill="#73a1a5"/>
<circle cx="174.3" cy="86.8" r="7.65" fill="#8ab1b4"/>
<circle cx="56.4" cy="96.8" r="7.65" fill="#73a1a5"/>
<circle cx="96.0" cy="96.8" r="7.65" fill="#94b8ba"/>
<circle cx="214.5" cy="96.8" r="7.65" fill="#a3c3c5"/>
<circle cx="253.5" cy="96.8" r="7.65" fill="#7ea9ad"/>
<circle cx="115.0" cy="118.2" r="7.65" fill="#94b8ba"/>
<circle cx="145.5" cy="118.2" r="7.65" fill="#aac8ca"/>
<circle cx="163.8" cy="118.2" r="7.65" fill="#b2cdcf"/>
<circle cx="194.0" cy="118.2" r="7.65" fill="#94b8ba"/>
<circle cx="280.2" cy="118.2" r="7.65" fill="#7ea9ad"/>
<circle cx="29.0" cy="135.6" r="7.65" fill="#5d9296"/>
<circle cx="56.4" cy="135.6" r="7.65" fill="#568c91"/>
<circle cx="85.4" cy="135.6" r="7.65" fill="#427a7f"/>
<circle cx="134.9" cy="135.6" r="7.65" fill="#aac8ca"/>
<circle cx="174.3" cy="135.6" r="7.65" fill="#94b8ba"/>
<circle cx="261.4" cy="135.6" r="7.65" fill="#9dbec0"/>
<circle cx="115.1" cy="147.3" r="7.65" fill="#b2cdcf"/>
<circle cx="144.8" cy="147.3" r="7.65" fill="#8ab1b4"/>
<circle cx="164.2" cy="147.3" r="7.65" fill="#8ab1b4"/>
<circle cx="194.1" cy="147.3" r="7.65" fill="#b2cdcf"/>
<circle cx="115.1" cy="163.7" r="7.65" fill="#b9d2d4"/>
<circle cx="144.8" cy="163.7" r="7.65" fill="#aac8ca"/>
<circle cx="164.2" cy="163.7" r="7.65" fill="#94b8ba"/>
<circle cx="194.1" cy="163.7" r="7.65" fill="#ccdfe0"/>
<circle cx="29.0" cy="176.2" r="7.65" fill="#427a7f"/>
<circle cx="56.4" cy="176.2" r="7.65" fill="#5d9296"/>
<circle cx="85.4" cy="176.2" r="7.65" fill="#4f868b"/>
<circle cx="135.0" cy="176.2" r="7.65" fill="#aac8ca"/>
<circle cx="174.0" cy="176.2" r="7.65" fill="#c2d9da"/>
<circle cx="261.3" cy="176.2" r="7.65" fill="#7ea9ad"/>
<circle cx="115.2" cy="195.5" r="7.65" fill="#94b8ba"/>
<circle cx="194.2" cy="195.5" r="7.65" fill="#c2d9da"/>
<circle cx="280.2" cy="195.5" r="7.65" fill="#5d9296"/>
<circle cx="140.0" cy="199.6" r="7.65" fill="#b9d2d4"/>
<circle cx="169.6" cy="199.6" r="7.65" fill="#d5e5e6"/>
<circle cx="56.4" cy="214.8" r="7.65" fill="#73a1a5"/>
<circle cx="96.0" cy="214.8" r="7.65" fill="#94b8ba"/>
<circle cx="214.5" cy="214.8" r="7.65" fill="#b9d2d4"/>
<circle cx="253.3" cy="214.8" r="7.65" fill="#67999d"/>
<circle cx="135.0" cy="225.0" r="7.65" fill="#7ea9ad"/>
<circle cx="174.0" cy="225.0" r="7.65" fill="#a3c3c5"/>
<circle cx="56.4" cy="253.6" r="7.65" fill="#7ea9ad"/>
<circle cx="96.0" cy="253.6" r="7.65" fill="#568c91"/>
<circle cx="135.0" cy="253.6" r="7.65" fill="#8ab1b4"/>
<circle cx="174.0" cy="253.6" r="7.65" fill="#a3c3c5"/>
<circle cx="214.5" cy="253.6" r="7.65" fill="#8ab1b4"/>
<circle cx="253.4" cy="253.6" r="7.65" fill="#7ea9ad"/>
<circle cx="115.0" cy="280.5" r="7.65" fill="#5d9296"/>
<circle cx="193.9" cy="280.5" r="7.65" fill="#94b8ba"/>
</g>
<g>
<text transform="translate(115.0,33.15)" class="v">4.0</text>
<text transform="translate(193.9,33.15)" class="v">4.0</text>
<text transform="translate(56.4,60.95)" class="v">3.7</text>
<text transform="translate(96.0,60.95)" class="v">3.8</text>
<text transform="translate(135.0,60.95)" class="v">3.8</text>
<text transform="translate(174.3,60.95)" class="v">3.9</text>
<text transform="translate(214.5,60.95)" class="v">3.9</text>
<text transform="translate(253.3,60.95)" class="v">3.5</text>
<text transform="translate(135.0,89.45)" class="v">3.8</text>
<text transform="translate(174.3,89.45)" class="v">3.6</text>
<text transform="translate(56.4,99.45)" class="v">3.8</text>
<text transform="translate(96.0,99.45)" class="v">3.5</text>
<text transform="translate(214.5,99.45)" class="v">3.3</text>
<text transform="translate(253.5,99.45)" class="v">3.7</text>
<text transform="translate(115.0,120.85)" class="v">3.5</text>
<text transform="translate(145.5,120.85)" class="v">3.2</text>
<text transform="translate(163.8,120.85)" class="v">3.1</text>
<text transform="translate(194.0,120.85)" class="v">3.5</text>
<text transform="translate(280.2,120.85)" class="v">3.7</text>
<text transform="translate(29.0,138.25)" class="v">4.0</text>
<text transform="translate(56.4,138.25)" class="v">4.1</text>
<text transform="translate(85.4,138.25)" class="v">4.4</text>
<text transform="translate(134.9,138.25)" class="v">3.2</text>
<text transform="translate(174.3,138.25)" class="v">3.5</text>
<text transform="translate(261.4,138.25)" class="v">3.4</text>
<text transform="translate(115.1,149.95)" class="v">3.1</text>
<text transform="translate(144.8,149.95)" class="v">3.6</text>
<text transform="translate(164.2,149.95)" class="v">3.6</text>
<text transform="translate(194.1,149.95)" class="v">3.1</text>
<text transform="translate(154.5,158.65)" class="v">3.5</text>
<text transform="translate(115.1,166.35)" class="v">3.0</text>
<text transform="translate(144.8,166.35)" class="v">3.2</text>
<text transform="translate(164.2,166.35)" class="v">3.5</text>
<text transform="translate(194.1,166.35)" class="v">2.8</text>
<text transform="translate(29.0,178.85)" class="v">4.4</text>
<text transform="translate(56.4,178.85)" class="v">4.0</text>
<text transform="translate(85.4,178.85)" class="v">4.2</text>
<text transform="translate(135.0,178.85)" class="v">3.2</text>
<text transform="translate(174.0,178.85)" class="v">2.9</text>
<text transform="translate(261.3,178.85)" class="v">3.7</text>
<text transform="translate(115.2,198.15)" class="v">3.5</text>
<text transform="translate(194.2,198.15)" class="v">2.9</text>
<text transform="translate(280.2,198.15)" class="v">4.0</text>
<text transform="translate(140.0,202.25)" class="v">3.0</text>
<text transform="translate(169.6,202.25)" class="v">2.7</text>
<text transform="translate(56.4,217.45)" class="v">3.8</text>
<text transform="translate(96.0,217.45)" class="v">3.5</text>
<text transform="translate(214.5,217.45)" class="v">3.0</text>
<text transform="translate(253.3,217.45)" class="v">3.9</text>
<text transform="translate(135.0,227.65)" class="v">3.7</text>
<text transform="translate(174.0,227.65)" class="v">3.3</text>
<text transform="translate(56.4,256.25)" class="v">3.7</text>
<text transform="translate(96.0,256.25)" class="v">4.1</text>
<text transform="translate(135.0,256.25)" class="v">3.6</text>
<text transform="translate(174.0,256.25)" class="v">3.3</text>
<text transform="translate(214.5,256.25)" class="v">3.6</text>
<text transform="translate(253.4,256.25)" class="v">3.7</text>
<text transform="translate(115.0,283.15)" class="v">4.0</text>
<text transform="translate(193.9,283.15)" class="v">3.5</text>
</g>
<text x="23.5" y="327.3" class="mae">MAE (dB)</text>
<defs><linearGradient id="gd" x1="0" x2="1" y1="0" y2="0"><stop offset="0.00" stop-color="#ffffff"/><stop offset="0.05" stop-color="#fefefe"/><stop offset="0.10" stop-color="#fcfcfc"/><stop offset="0.15" stop-color="#fbfbfb"/><stop offset="0.20" stop-color="#f6f7f7"/><stop offset="0.25" stop-color="#f1f2f2"/><stop offset="0.30" stop-color="#eceeee"/><stop offset="0.35" stop-color="#e2e5e5"/><stop offset="0.40" stop-color="#d8dcdc"/><stop offset="0.45" stop-color="#cdd2d3"/><stop offset="0.50" stop-color="#c3c9ca"/><stop offset="0.55" stop-color="#b2bbbd"/><stop offset="0.60" stop-color="#a1aeb0"/><stop offset="0.65" stop-color="#90a0a3"/><stop offset="0.70" stop-color="#7f9296"/><stop offset="0.75" stop-color="#6e8489"/><stop offset="0.80" stop-color="#5f797f"/><stop offset="0.85" stop-color="#506e76"/><stop offset="0.90" stop-color="#44656e"/><stop offset="0.95" stop-color="#395e67"/><stop offset="1.00" stop-color="#2e5660"/></linearGradient></defs>
<rect x="130.6" y="317.9" width="179.2" height="10.8" fill="url(#gd)"/>
<rect x="129.8" y="329.4" width="1.6" height="6.7" fill="#c6c6c6"/>
<text x="132.4" y="343.8" class="tk">2.0</text>
<rect x="217.8" y="329.4" width="1.6" height="6.7" fill="#c6c6c6"/>
<text x="220.4" y="343.8" class="tk">3.5</text>
<rect x="308.1" y="329.4" width="1.6" height="6.7" fill="#c6c6c6"/>
<text x="310.7" y="343.8" class="tk">5.0</text>
</g>
<g transform="translate(0,733.8)">
<text x="10.5" y="24" class="lab">e</text>
<circle cx="155.2" cy="156.3" r="151.3" fill="#f7f7f0" stroke="#dcdcd4" stroke-width="1"/>
<ellipse cx="228.5" cy="155.5" rx="14.2" ry="37" fill="#c6c6c6" stroke="#555" stroke-width="0.8"/>
<circle cx="228.5" cy="135.9" r="7.4" fill="#000"/>
<circle cx="228.5" cy="175.9" r="7.4" fill="#000"/>
<g fill="none" stroke="#fff" stroke-opacity="0.55" stroke-width="1">
<circle cx="115.0" cy="30.5" r="8.75"/>
<circle cx="193.9" cy="30.5" r="8.75"/>
<circle cx="56.4" cy="58.3" r="8.75"/>
<circle cx="96.0" cy="58.3" r="8.75"/>
<circle cx="135.0" cy="58.3" r="8.75"/>
<circle cx="174.3" cy="58.3" r="8.75"/>
<circle cx="214.5" cy="58.3" r="8.75"/>
<circle cx="253.3" cy="58.3" r="8.75"/>
<circle cx="135.0" cy="86.8" r="8.75"/>
<circle cx="174.3" cy="86.8" r="8.75"/>
<circle cx="56.4" cy="96.8" r="8.75"/>
<circle cx="96.0" cy="96.8" r="8.75"/>
<circle cx="214.5" cy="96.8" r="8.75"/>
<circle cx="253.5" cy="96.8" r="8.75"/>
<circle cx="115.0" cy="118.2" r="8.75"/>
<circle cx="145.5" cy="118.2" r="8.75"/>
<circle cx="163.8" cy="118.2" r="8.75"/>
<circle cx="194.0" cy="118.2" r="8.75"/>
<circle cx="280.2" cy="118.2" r="8.75"/>
<circle cx="29.0" cy="135.6" r="8.75"/>
<circle cx="56.4" cy="135.6" r="8.75"/>
<circle cx="85.4" cy="135.6" r="8.75"/>
<circle cx="134.9" cy="135.6" r="8.75"/>
<circle cx="174.3" cy="135.6" r="8.75"/>
<circle cx="261.4" cy="135.6" r="8.75"/>
<circle cx="115.1" cy="147.3" r="8.75"/>
<circle cx="144.8" cy="147.3" r="8.75"/>
<circle cx="164.2" cy="147.3" r="8.75"/>
<circle cx="194.1" cy="147.3" r="8.75"/>
<circle cx="154.5" cy="156.0" r="8.75"/>
<circle cx="115.1" cy="163.7" r="8.75"/>
<circle cx="144.8" cy="163.7" r="8.75"/>
<circle cx="164.2" cy="163.7" r="8.75"/>
<circle cx="194.1" cy="163.7" r="8.75"/>
<circle cx="29.0" cy="176.2" r="8.75"/>
<circle cx="56.4" cy="176.2" r="8.75"/>
<circle cx="85.4" cy="176.2" r="8.75"/>
<circle cx="135.0" cy="176.2" r="8.75"/>
<circle cx="174.0" cy="176.2" r="8.75"/>
<circle cx="261.3" cy="176.2" r="8.75"/>
<circle cx="115.2" cy="195.5" r="8.75"/>
<circle cx="194.2" cy="195.5" r="8.75"/>
<circle cx="280.2" cy="195.5" r="8.75"/>
<circle cx="140.0" cy="199.6" r="8.75"/>
<circle cx="169.6" cy="199.6" r="8.75"/>
<circle cx="56.4" cy="214.8" r="8.75"/>
<circle cx="96.0" cy="214.8" r="8.75"/>
<circle cx="214.5" cy="214.8" r="8.75"/>
<circle cx="253.3" cy="214.8" r="8.75"/>
<circle cx="135.0" cy="225.0" r="8.75"/>
<circle cx="174.0" cy="225.0" r="8.75"/>
<circle cx="56.4" cy="253.6" r="8.75"/>
<circle cx="96.0" cy="253.6" r="8.75"/>
<circle cx="135.0" cy="253.6" r="8.75"/>
<circle cx="174.0" cy="253.6" r="8.75"/>
<circle cx="214.5" cy="253.6" r="8.75"/>
<circle cx="253.4" cy="253.6" r="8.75"/>
<circle cx="115.0" cy="280.5" r="8.75"/>
<circle cx="193.9" cy="280.5" r="8.75"/>
</g>
<g stroke="#44421f" stroke-width="1.15">
<circle cx="154.5" cy="156.0" r="7.65" fill="#bdb46a"/>
<circle cx="115.0" cy="30.5" r="7.65" fill="#b4ab54"/>
<circle cx="193.9" cy="30.5" r="7.65" fill="#a8a040"/>
<circle cx="56.4" cy="58.3" r="7.65" fill="#bdb46a"/>
<circle cx="96.0" cy="58.3" r="7.65" fill="#b8b05f"/>
<circle cx="135.0" cy="58.3" r="7.65" fill="#bdb46a"/>
<circle cx="174.3" cy="58.3" r="7.65" fill="#bdb46a"/>
<circle cx="214.5" cy="58.3" r="7.65" fill="#aea64a"/>
<circle cx="253.3" cy="58.3" r="7.65" fill="#bdb46a"/>
<circle cx="135.0" cy="86.8" r="7.65" fill="#b4ab54"/>
<circle cx="174.3" cy="86.8" r="7.65" fill="#b8b05f"/>
<circle cx="56.4" cy="96.8" r="7.65" fill="#b4ab54"/>
<circle cx="96.0" cy="96.8" r="7.65" fill="#c2bb77"/>
<circle cx="214.5" cy="96.8" r="7.65" fill="#cdc892"/>
<circle cx="253.5" cy="96.8" r="7.65" fill="#b8b05f"/>
<circle cx="115.0" cy="118.2" r="7.65" fill="#d4d0a0"/>
<circle cx="145.5" cy="118.2" r="7.65" fill="#dad8ae"/>
<circle cx="163.8" cy="118.2" r="7.65" fill="#e6e4cb"/>
<circle cx="194.0" cy="118.2" r="7.65" fill="#cdc892"/>
<circle cx="280.2" cy="118.2" r="7.65" fill="#bdb46a"/>
<circle cx="29.0" cy="135.6" r="7.65" fill="#b4ab54"/>
<circle cx="56.4" cy="135.6" r="7.65" fill="#bdb46a"/>
<circle cx="85.4" cy="135.6" r="7.65" fill="#b8b05f"/>
<circle cx="134.9" cy="135.6" r="7.65" fill="#c2bb77"/>
<circle cx="174.3" cy="135.6" r="7.65" fill="#cdc892"/>
<circle cx="261.4" cy="135.6" r="7.65" fill="#d4d0a0"/>
<circle cx="115.1" cy="147.3" r="7.65" fill="#e0debc"/>
<circle cx="144.8" cy="147.3" r="7.65" fill="#c8c185"/>
<circle cx="164.2" cy="147.3" r="7.65" fill="#d4d0a0"/>
<circle cx="194.1" cy="147.3" r="7.65" fill="#e0debc"/>
<circle cx="115.1" cy="163.7" r="7.65" fill="#e6e4cb"/>
<circle cx="144.8" cy="163.7" r="7.65" fill="#d4d0a0"/>
<circle cx="164.2" cy="163.7" r="7.65" fill="#d4d0a0"/>
<circle cx="194.1" cy="163.7" r="7.65" fill="#eeeedd"/>
<circle cx="29.0" cy="176.2" r="7.65" fill="#a8a040"/>
<circle cx="56.4" cy="176.2" r="7.65" fill="#b8b05f"/>
<circle cx="85.4" cy="176.2" r="7.65" fill="#b4ab54"/>
<circle cx="135.0" cy="176.2" r="7.65" fill="#dad8ae"/>
<circle cx="174.0" cy="176.2" r="7.65" fill="#eae9d4"/>
<circle cx="261.3" cy="176.2" r="7.65" fill="#c8c185"/>
<circle cx="115.2" cy="195.5" r="7.65" fill="#cdc892"/>
<circle cx="194.2" cy="195.5" r="7.65" fill="#eae9d4"/>
<circle cx="280.2" cy="195.5" r="7.65" fill="#bdb46a"/>
<circle cx="140.0" cy="199.6" r="7.65" fill="#dad8ae"/>
<circle cx="169.6" cy="199.6" r="7.65" fill="#eeeedd"/>
<circle cx="56.4" cy="214.8" r="7.65" fill="#c2bb77"/>
<circle cx="96.0" cy="214.8" r="7.65" fill="#c8c185"/>
<circle cx="214.5" cy="214.8" r="7.65" fill="#e0debc"/>
<circle cx="253.3" cy="214.8" r="7.65" fill="#c2bb77"/>
<circle cx="135.0" cy="225.0" r="7.65" fill="#c2bb77"/>
<circle cx="174.0" cy="225.0" r="7.65" fill="#d4d0a0"/>
<circle cx="56.4" cy="253.6" r="7.65" fill="#bdb46a"/>
<circle cx="96.0" cy="253.6" r="7.65" fill="#b4ab54"/>
<circle cx="135.0" cy="253.6" r="7.65" fill="#c8c185"/>
<circle cx="174.0" cy="253.6" r="7.65" fill="#d4d0a0"/>
<circle cx="214.5" cy="253.6" r="7.65" fill="#c8c185"/>
<circle cx="253.4" cy="253.6" r="7.65" fill="#dad8ae"/>
<circle cx="115.0" cy="280.5" r="7.65" fill="#bdb46a"/>
<circle cx="193.9" cy="280.5" r="7.65" fill="#c8c185"/>
</g>
<g>
<text transform="translate(115.0,33.15)" class="v">3.5</text>
<text transform="translate(193.9,33.15)" class="v">3.7</text>
<text transform="translate(56.4,60.95)" class="v">3.3</text>
<text transform="translate(96.0,60.95)" class="v">3.4</text>
<text transform="translate(135.0,60.95)" class="v">3.3</text>
<text transform="translate(174.3,60.95)" class="v">3.3</text>
<text transform="translate(214.5,60.95)" class="v">3.6</text>
<text transform="translate(253.3,60.95)" class="v">3.3</text>
<text transform="translate(135.0,89.45)" class="v">3.5</text>
<text transform="translate(174.3,89.45)" class="v">3.4</text>
<text transform="translate(56.4,99.45)" class="v">3.5</text>
<text transform="translate(96.0,99.45)" class="v">3.2</text>
<text transform="translate(214.5,99.45)" class="v">3.0</text>
<text transform="translate(253.5,99.45)" class="v">3.4</text>
<text transform="translate(115.0,120.85)" class="v">2.9</text>
<text transform="translate(145.5,120.85)" class="v">2.8</text>
<text transform="translate(163.8,120.85)" class="v">2.6</text>
<text transform="translate(194.0,120.85)" class="v">3.0</text>
<text transform="translate(280.2,120.85)" class="v">3.3</text>
<text transform="translate(29.0,138.25)" class="v">3.5</text>
<text transform="translate(56.4,138.25)" class="v">3.3</text>
<text transform="translate(85.4,138.25)" class="v">3.4</text>
<text transform="translate(134.9,138.25)" class="v">3.2</text>
<text transform="translate(174.3,138.25)" class="v">3.0</text>
<text transform="translate(261.4,138.25)" class="v">2.9</text>
<text transform="translate(115.1,149.95)" class="v">2.7</text>
<text transform="translate(144.8,149.95)" class="v">3.1</text>
<text transform="translate(164.2,149.95)" class="v">2.9</text>
<text transform="translate(194.1,149.95)" class="v">2.7</text>
<text transform="translate(154.5,158.65)" class="v">3.3</text>
<text transform="translate(115.1,166.35)" class="v">2.6</text>
<text transform="translate(144.8,166.35)" class="v">2.9</text>
<text transform="translate(164.2,166.35)" class="v">2.9</text>
<text transform="translate(194.1,166.35)" class="v">2.4</text>
<text transform="translate(29.0,178.85)" class="v">3.7</text>
<text transform="translate(56.4,178.85)" class="v">3.4</text>
<text transform="translate(85.4,178.85)" class="v">3.5</text>
<text transform="translate(135.0,178.85)" class="v">2.8</text>
<text transform="translate(174.0,178.85)" class="v">2.5</text>
<text transform="translate(261.3,178.85)" class="v">3.1</text>
<text transform="translate(115.2,198.15)" class="v">3.0</text>
<text transform="translate(194.2,198.15)" class="v">2.5</text>
<text transform="translate(280.2,198.15)" class="v">3.3</text>
<text transform="translate(140.0,202.25)" class="v">2.8</text>
<text transform="translate(169.6,202.25)" class="v">2.4</text>
<text transform="translate(56.4,217.45)" class="v">3.2</text>
<text transform="translate(96.0,217.45)" class="v">3.1</text>
<text transform="translate(214.5,217.45)" class="v">2.7</text>
<text transform="translate(253.3,217.45)" class="v">3.2</text>
<text transform="translate(135.0,227.65)" class="v">3.2</text>
<text transform="translate(174.0,227.65)" class="v">2.9</text>
<text transform="translate(56.4,256.25)" class="v">3.3</text>
<text transform="translate(96.0,256.25)" class="v">3.5</text>
<text transform="translate(135.0,256.25)" class="v">3.1</text>
<text transform="translate(174.0,256.25)" class="v">2.9</text>
<text transform="translate(214.5,256.25)" class="v">3.1</text>
<text transform="translate(253.4,256.25)" class="v">2.8</text>
<text transform="translate(115.0,283.15)" class="v">3.3</text>
<text transform="translate(193.9,283.15)" class="v">3.1</text>
</g>
<text x="23.5" y="327.3" class="mae">MAE (dB)</text>
<defs><linearGradient id="ge" x1="0" x2="1" y1="0" y2="0"><stop offset="0.00" stop-color="#ffffff"/><stop offset="0.05" stop-color="#fefefd"/><stop offset="0.10" stop-color="#fcfcfb"/><stop offset="0.15" stop-color="#fbfbf9"/><stop offset="0.20" stop-color="#f7f6f3"/><stop offset="0.25" stop-color="#f2f2ec"/><stop offset="0.30" stop-color="#eeede6"/><stop offset="0.35" stop-color="#e8e6dc"/><stop offset="0.40" stop-color="#e1dfd3"/><stop offset="0.45" stop-color="#dad8ca"/><stop offset="0.50" stop-color="#d4d1c0"/><stop offset="0.55" stop-color="#cbc7b1"/><stop offset="0.60" stop-color="#c2bda2"/><stop offset="0.65" stop-color="#bab392"/><stop offset="0.70" stop-color="#b3a981"/><stop offset="0.75" stop-color="#ab9f70"/><stop offset="0.80" stop-color="#a6985f"/><stop offset="0.85" stop-color="#a0924f"/><stop offset="0.90" stop-color="#9c8e41"/><stop offset="0.95" stop-color="#988d36"/><stop offset="1.00" stop-color="#948c2a"/></linearGradient></defs>
<rect x="130.6" y="317.9" width="179.2" height="10.8" fill="url(#ge)"/>
<rect x="129.8" y="329.4" width="1.6" height="6.7" fill="#c6c6c6"/>
<text x="132.4" y="343.8" class="tk">2.0</text>
<rect x="217.8" y="329.4" width="1.6" height="6.7" fill="#c6c6c6"/>
<text x="220.4" y="343.8" class="tk">3.0</text>
<rect x="308.1" y="329.4" width="1.6" height="6.7" fill="#c6c6c6"/>
<text x="310.7" y="343.8" class="tk">4.0</text>
</g>
<g transform="translate(356,733.8)">
<text x="12.9" y="24" class="lab">f</text>
<circle cx="155.2" cy="156.3" r="151.3" fill="#fcf5f6" stroke="#f3e6e9" stroke-width="1"/>
<ellipse cx="228.5" cy="155.5" rx="14.2" ry="37" fill="#c6c6c6" stroke="#555" stroke-width="0.8"/>
<circle cx="228.5" cy="135.9" r="7.4" fill="#000"/>
<circle cx="228.5" cy="175.9" r="7.4" fill="#000"/>
<g fill="none" stroke="#fff" stroke-opacity="0.55" stroke-width="1">
<circle cx="115.0" cy="30.5" r="8.75"/>
<circle cx="193.9" cy="30.5" r="8.75"/>
<circle cx="56.4" cy="58.3" r="8.75"/>
<circle cx="96.0" cy="58.3" r="8.75"/>
<circle cx="135.0" cy="58.3" r="8.75"/>
<circle cx="174.3" cy="58.3" r="8.75"/>
<circle cx="214.5" cy="58.3" r="8.75"/>
<circle cx="253.3" cy="58.3" r="8.75"/>
<circle cx="135.0" cy="86.8" r="8.75"/>
<circle cx="174.3" cy="86.8" r="8.75"/>
<circle cx="56.4" cy="96.8" r="8.75"/>
<circle cx="96.0" cy="96.8" r="8.75"/>
<circle cx="214.5" cy="96.8" r="8.75"/>
<circle cx="253.5" cy="96.8" r="8.75"/>
<circle cx="115.0" cy="118.2" r="8.75"/>
<circle cx="145.5" cy="118.2" r="8.75"/>
<circle cx="163.8" cy="118.2" r="8.75"/>
<circle cx="194.0" cy="118.2" r="8.75"/>
<circle cx="280.2" cy="118.2" r="8.75"/>
<circle cx="29.0" cy="135.6" r="8.75"/>
<circle cx="56.4" cy="135.6" r="8.75"/>
<circle cx="85.4" cy="135.6" r="8.75"/>
<circle cx="134.9" cy="135.6" r="8.75"/>
<circle cx="174.3" cy="135.6" r="8.75"/>
<circle cx="261.4" cy="135.6" r="8.75"/>
<circle cx="115.1" cy="147.3" r="8.75"/>
<circle cx="144.8" cy="147.3" r="8.75"/>
<circle cx="164.2" cy="147.3" r="8.75"/>
<circle cx="194.1" cy="147.3" r="8.75"/>
<circle cx="154.5" cy="156.0" r="8.75"/>
<circle cx="115.1" cy="163.7" r="8.75"/>
<circle cx="144.8" cy="163.7" r="8.75"/>
<circle cx="164.2" cy="163.7" r="8.75"/>
<circle cx="194.1" cy="163.7" r="8.75"/>
<circle cx="29.0" cy="176.2" r="8.75"/>
<circle cx="56.4" cy="176.2" r="8.75"/>
<circle cx="85.4" cy="176.2" r="8.75"/>
<circle cx="135.0" cy="176.2" r="8.75"/>
<circle cx="174.0" cy="176.2" r="8.75"/>
<circle cx="261.3" cy="176.2" r="8.75"/>
<circle cx="115.2" cy="195.5" r="8.75"/>
<circle cx="194.2" cy="195.5" r="8.75"/>
<circle cx="280.2" cy="195.5" r="8.75"/>
<circle cx="140.0" cy="199.6" r="8.75"/>
<circle cx="169.6" cy="199.6" r="8.75"/>
<circle cx="56.4" cy="214.8" r="8.75"/>
<circle cx="96.0" cy="214.8" r="8.75"/>
<circle cx="214.5" cy="214.8" r="8.75"/>
<circle cx="253.3" cy="214.8" r="8.75"/>
<circle cx="135.0" cy="225.0" r="8.75"/>
<circle cx="174.0" cy="225.0" r="8.75"/>
<circle cx="56.4" cy="253.6" r="8.75"/>
<circle cx="96.0" cy="253.6" r="8.75"/>
<circle cx="135.0" cy="253.6" r="8.75"/>
<circle cx="174.0" cy="253.6" r="8.75"/>
<circle cx="214.5" cy="253.6" r="8.75"/>
<circle cx="253.4" cy="253.6" r="8.75"/>
<circle cx="115.0" cy="280.5" r="8.75"/>
<circle cx="193.9" cy="280.5" r="8.75"/>
</g>
<g stroke="#3c1c1e" stroke-width="1.15">
<circle cx="154.5" cy="156.0" r="7.65" fill="#efbcc0"/>
<circle cx="115.0" cy="30.5" r="7.65" fill="#de727a"/>
<circle cx="193.9" cy="30.5" r="7.65" fill="#efbcc0"/>
<circle cx="56.4" cy="58.3" r="7.65" fill="#da626a"/>
<circle cx="96.0" cy="58.3" r="7.65" fill="#de727a"/>
<circle cx="135.0" cy="58.3" r="7.65" fill="#de727a"/>
<circle cx="174.3" cy="58.3" r="7.65" fill="#e48c93"/>
<circle cx="214.5" cy="58.3" r="7.65" fill="#efbcc0"/>
<circle cx="253.3" cy="58.3" r="7.65" fill="#efbcc0"/>
<circle cx="135.0" cy="86.8" r="7.65" fill="#de727a"/>
<circle cx="174.3" cy="86.8" r="7.65" fill="#de727a"/>
<circle cx="56.4" cy="96.8" r="7.65" fill="#d8444c"/>
<circle cx="96.0" cy="96.8" r="7.65" fill="#da626a"/>
<circle cx="214.5" cy="96.8" r="7.65" fill="#de727a"/>
<circle cx="253.5" cy="96.8" r="7.65" fill="#efbcc0"/>
<circle cx="115.0" cy="118.2" r="7.65" fill="#d43a3e"/>
<circle cx="145.5" cy="118.2" r="7.65" fill="#de727a"/>
<circle cx="163.8" cy="118.2" r="7.65" fill="#efbcc0"/>
<circle cx="194.0" cy="118.2" r="7.65" fill="#e48c93"/>
<circle cx="280.2" cy="118.2" r="7.65" fill="#fdf3f4"/>
<circle cx="29.0" cy="135.6" r="7.65" fill="#da626a"/>
<circle cx="56.4" cy="135.6" r="7.65" fill="#de727a"/>
<circle cx="85.4" cy="135.6" r="7.65" fill="#de727a"/>
<circle cx="134.9" cy="135.6" r="7.65" fill="#de727a"/>
<circle cx="174.3" cy="135.6" r="7.65" fill="#efbcc0"/>
<circle cx="261.4" cy="135.6" r="7.65" fill="#efbcc0"/>
<circle cx="115.1" cy="147.3" r="7.65" fill="#e48c93"/>
<circle cx="144.8" cy="147.3" r="7.65" fill="#e48c93"/>
<circle cx="164.2" cy="147.3" r="7.65" fill="#f8e4e6"/>
<circle cx="194.1" cy="147.3" r="7.65" fill="#f8e4e6"/>
<circle cx="115.1" cy="163.7" r="7.65" fill="#efbcc0"/>
<circle cx="144.8" cy="163.7" r="7.65" fill="#e48c93"/>
<circle cx="164.2" cy="163.7" r="7.65" fill="#fdf3f4"/>
<circle cx="194.1" cy="163.7" r="7.65" fill="#efbcc0"/>
<circle cx="29.0" cy="176.2" r="7.65" fill="#f8e4e6"/>
<circle cx="56.4" cy="176.2" r="7.65" fill="#f8e4e6"/>
<circle cx="85.4" cy="176.2" r="7.65" fill="#e48c93"/>
<circle cx="135.0" cy="176.2" r="7.65" fill="#e48c93"/>
<circle cx="174.0" cy="176.2" r="7.65" fill="#f8e4e6"/>
<circle cx="261.3" cy="176.2" r="7.65" fill="#fdf3f4"/>
<circle cx="115.2" cy="195.5" r="7.65" fill="#efbcc0"/>
<circle cx="194.2" cy="195.5" r="7.65" fill="#e48c93"/>
<circle cx="280.2" cy="195.5" r="7.65" fill="#ffffff"/>
<circle cx="140.0" cy="199.6" r="7.65" fill="#f8e4e6"/>
<circle cx="169.6" cy="199.6" r="7.65" fill="#efbcc0"/>
<circle cx="56.4" cy="214.8" r="7.65" fill="#efbcc0"/>
<circle cx="96.0" cy="214.8" r="7.65" fill="#f8e4e6"/>
<circle cx="214.5" cy="214.8" r="7.65" fill="#efbcc0"/>
<circle cx="253.3" cy="214.8" r="7.65" fill="#ffffff"/>
<circle cx="135.0" cy="225.0" r="7.65" fill="#f8e4e6"/>
<circle cx="174.0" cy="225.0" r="7.65" fill="#e48c93"/>
<circle cx="56.4" cy="253.6" r="7.65" fill="#e48c93"/>
<circle cx="96.0" cy="253.6" r="7.65" fill="#fdf3f4"/>
<circle cx="135.0" cy="253.6" r="7.65" fill="#efbcc0"/>
<circle cx="174.0" cy="253.6" r="7.65" fill="#efbcc0"/>
<circle cx="214.5" cy="253.6" r="7.65" fill="#efbcc0"/>
<circle cx="253.4" cy="253.6" r="7.65" fill="#fdf3f4"/>
<circle cx="115.0" cy="280.5" r="7.65" fill="#f8e4e6"/>
<circle cx="193.9" cy="280.5" r="7.65" fill="#fdf3f4"/>
</g>
<g>
<text transform="translate(115.0,33.15)" class="v">0.5</text>
<text transform="translate(193.9,33.15)" class="v">0.3</text>
<text transform="translate(56.4,60.95)" class="v">0.6</text>
<text transform="translate(96.0,60.95)" class="v">0.5</text>
<text transform="translate(135.0,60.95)" class="v">0.5</text>
<text transform="translate(174.3,60.95)" class="v">0.4</text>
<text transform="translate(214.5,60.95)" class="v">0.3</text>
<text transform="translate(253.3,60.95)" class="v">0.3</text>
<text transform="translate(135.0,89.45)" class="v">0.5</text>
<text transform="translate(174.3,89.45)" class="v">0.5</text>
<text transform="translate(56.4,99.45)" class="v">0.7</text>
<text transform="translate(96.0,99.45)" class="v">0.6</text>
<text transform="translate(214.5,99.45)" class="v">0.5</text>
<text transform="translate(253.5,99.45)" class="v">0.3</text>
<text transform="translate(115.0,120.85)" class="v">0.8</text>
<text transform="translate(145.5,120.85)" class="v">0.5</text>
<text transform="translate(163.8,120.85)" class="v">0.3</text>
<text transform="translate(194.0,120.85)" class="v">0.4</text>
<text transform="translate(280.2,120.85)" class="v">0.1</text>
<text transform="translate(29.0,138.25)" class="v">0.6</text>
<text transform="translate(56.4,138.25)" class="v">0.5</text>
<text transform="translate(85.4,138.25)" class="v">0.5</text>
<text transform="translate(134.9,138.25)" class="v">0.5</text>
<text transform="translate(174.3,138.25)" class="v">0.3</text>
<text transform="translate(261.4,138.25)" class="v">0.3</text>
<text transform="translate(115.1,149.95)" class="v">0.4</text>
<text transform="translate(144.8,149.95)" class="v">0.4</text>
<text transform="translate(164.2,149.95)" class="v">0.2</text>
<text transform="translate(194.1,149.95)" class="v">0.2</text>
<text transform="translate(154.5,158.65)" class="v">0.3</text>
<text transform="translate(115.1,166.35)" class="v">0.3</text>
<text transform="translate(144.8,166.35)" class="v">0.4</text>
<text transform="translate(164.2,166.35)" class="v">0.1</text>
<text transform="translate(194.1,166.35)" class="v">0.3</text>
<text transform="translate(29.0,178.85)" class="v">0.2</text>
<text transform="translate(56.4,178.85)" class="v">0.2</text>
<text transform="translate(85.4,178.85)" class="v">0.4</text>
<text transform="translate(135.0,178.85)" class="v">0.4</text>
<text transform="translate(174.0,178.85)" class="v">0.2</text>
<text transform="translate(261.3,178.85)" class="v">0.1</text>
<text transform="translate(115.2,198.15)" class="v">0.3</text>
<text transform="translate(194.2,198.15)" class="v">0.4</text>
<text transform="translate(280.2,198.15)" class="v">0</text>
<text transform="translate(140.0,202.25)" class="v">0.2</text>
<text transform="translate(169.6,202.25)" class="v">0.3</text>
<text transform="translate(56.4,217.45)" class="v">0.3</text>
<text transform="translate(96.0,217.45)" class="v">0.2</text>
<text transform="translate(214.5,217.45)" class="v">0.3</text>
<text transform="translate(253.3,217.45)" class="v">0</text>
<text transform="translate(135.0,227.65)" class="v">0.2</text>
<text transform="translate(174.0,227.65)" class="v">0.4</text>
<text transform="translate(56.4,256.25)" class="v">0.4</text>
<text transform="translate(96.0,256.25)" class="v">0.1</text>
<text transform="translate(135.0,256.25)" class="v">0.3</text>
<text transform="translate(174.0,256.25)" class="v">0.3</text>
<text transform="translate(214.5,256.25)" class="v">0.3</text>
<text transform="translate(253.4,256.25)" class="v">0.1</text>
<text transform="translate(115.0,283.15)" class="v">0.2</text>
<text transform="translate(193.9,283.15)" class="v">0.1</text>
</g>
<text x="23.5" y="327.3" class="mae">MAE (dB)</text>
<defs><linearGradient id="gf" x1="0" x2="1" y1="0" y2="0"><stop offset="0.00" stop-color="#ffffff"/><stop offset="0.05" stop-color="#fefdfd"/><stop offset="0.10" stop-color="#fdfcfc"/><stop offset="0.15" stop-color="#fcfafa"/><stop offset="0.20" stop-color="#f9f3f4"/><stop offset="0.25" stop-color="#f5edee"/><stop offset="0.30" stop-color="#f2e6e8"/><stop offset="0.35" stop-color="#eedce0"/><stop offset="0.40" stop-color="#e9d3d7"/><stop offset="0.45" stop-color="#e4cace"/><stop offset="0.50" stop-color="#e0c0c6"/><stop offset="0.55" stop-color="#ddb3ba"/><stop offset="0.60" stop-color="#d9a5ad"/><stop offset="0.65" stop-color="#d5949d"/><stop offset="0.70" stop-color="#d1818a"/><stop offset="0.75" stop-color="#cc6e78"/><stop offset="0.80" stop-color="#c95f68"/><stop offset="0.85" stop-color="#c55058"/><stop offset="0.90" stop-color="#c74147"/><stop offset="0.95" stop-color="#cb3336"/><stop offset="1.00" stop-color="#d02424"/></linearGradient></defs>
<rect x="130.6" y="317.9" width="179.2" height="10.8" fill="url(#gf)"/>
<rect x="129.8" y="329.4" width="1.6" height="6.7" fill="#c6c6c6"/>
<text x="135.0" y="343.8" class="tk">0</text>
<rect x="217.8" y="329.4" width="1.6" height="6.7" fill="#c6c6c6"/>
<text x="220.4" y="343.8" class="tk">0.5</text>
<rect x="308.1" y="329.4" width="1.6" height="6.7" fill="#c6c6c6"/>
<text x="310.7" y="343.8" class="tk">1.0</text>
</g>
</svg>
</body></html>
